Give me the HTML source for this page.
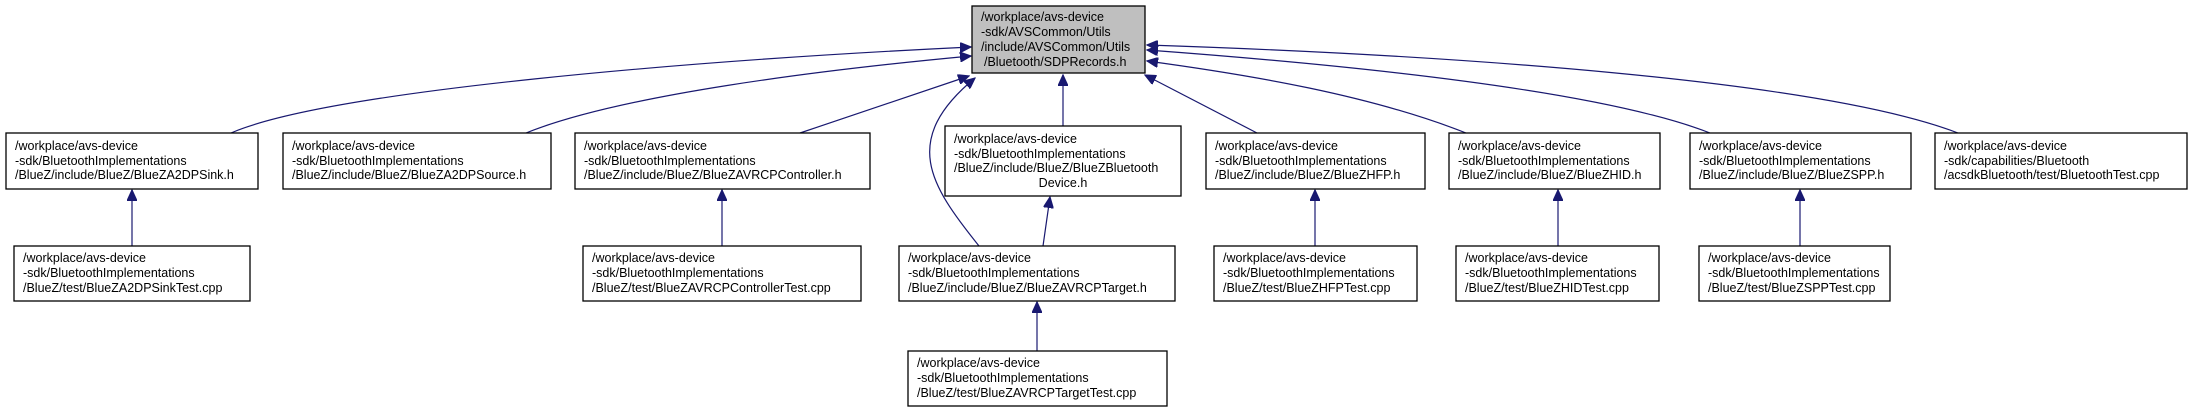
<!DOCTYPE html>
<html><head><meta charset="utf-8"><style>
html,body{margin:0;padding:0;background:#fff}
svg{display:block}
text{font-family:"Liberation Sans",sans-serif;font-size:12.5px;fill:#000}
rect{stroke:#000;stroke-width:1.3}
path{stroke:#191970;stroke-width:1.2;fill:none}
</style></head><body>
<svg width="2189" height="408" viewBox="0 0 2189 408" xmlns="http://www.w3.org/2000/svg">
<defs>
<marker id="a" markerWidth="12" markerHeight="10" refX="11" refY="5" orient="auto" markerUnits="userSpaceOnUse">
<path d="M0,0 L11,5 L0,10 Z" style="fill:#191970;stroke:#191970"/>
</marker>
</defs>
<path d="M231,133 C330,90 700,60 971,47" marker-end="url(#a)"/>
<path d="M526,133 C620,95 820,70 971,56" marker-end="url(#a)"/>
<path d="M800,133 L969,76" marker-end="url(#a)"/>
<path d="M979,246 C930,185 900,140 975,78" marker-end="url(#a)"/>
<path d="M1063,126 L1063,75" marker-end="url(#a)"/>
<path d="M1043,246 L1050,197" marker-end="url(#a)"/>
<path d="M132,246 L132,190" marker-end="url(#a)"/>
<path d="M722,246 L722,190" marker-end="url(#a)"/>
<path d="M1037,351 L1037,302" marker-end="url(#a)"/>
<path d="M1257,133 L1145,75" marker-end="url(#a)"/>
<path d="M1466,133 C1370,95 1250,75 1147,61" marker-end="url(#a)"/>
<path d="M1710,133 C1600,90 1350,65 1147,50" marker-end="url(#a)"/>
<path d="M1958,133 C1820,80 1450,55 1147,45" marker-end="url(#a)"/>
<path d="M1315,246 L1315,190" marker-end="url(#a)"/>
<path d="M1558,246 L1558,190" marker-end="url(#a)"/>
<path d="M1800,246 L1800,190" marker-end="url(#a)"/>
<rect x="972" y="6" width="173" height="67" fill="#bfbfbf"/>
<g style="font-size:12px">
<text x="981" y="21">/workplace/avs-device</text>
<text x="981" y="36">-sdk/AVSCommon/Utils</text>
<text x="981" y="51">/include/AVSCommon/Utils</text>
<text x="984" y="66">/Bluetooth/SDPRecords.h</text>
</g>
<g fill="#fff">
<rect x="6" y="133" width="252" height="56"/>
<rect x="283" y="133" width="268" height="56"/>
<rect x="575" y="133" width="295" height="56"/>
<rect x="945" y="126" width="236" height="70"/>
<rect x="1206" y="133" width="219" height="56"/>
<rect x="1449" y="133" width="211" height="56"/>
<rect x="1690" y="133" width="221" height="56"/>
<rect x="1935" y="133" width="252" height="56"/>
<rect x="14" y="246" width="236" height="55"/>
<rect x="583" y="246" width="278" height="55"/>
<rect x="899" y="246" width="276" height="55"/>
<rect x="1214" y="246" width="203" height="55"/>
<rect x="1456" y="246" width="203" height="55"/>
<rect x="1699" y="246" width="191" height="55"/>
<rect x="908" y="351" width="259" height="55"/>
</g>
<g>
<text x="15" y="150">/workplace/avs-device</text><text x="15" y="165">-sdk/BluetoothImplementations</text><text x="15" y="179">/BlueZ/include/BlueZ/BlueZA2DPSink.h</text>
<text x="292" y="150">/workplace/avs-device</text><text x="292" y="165">-sdk/BluetoothImplementations</text><text x="292" y="179">/BlueZ/include/BlueZ/BlueZA2DPSource.h</text>
<text x="584" y="150">/workplace/avs-device</text><text x="584" y="165">-sdk/BluetoothImplementations</text><text x="584" y="179">/BlueZ/include/BlueZ/BlueZAVRCPController.h</text>
<text x="954" y="143">/workplace/avs-device</text><text x="954" y="158">-sdk/BluetoothImplementations</text><text x="954" y="172">/BlueZ/include/BlueZ/BlueZBluetooth</text><text x="1063" y="187" text-anchor="middle">Device.h</text>
<text x="1215" y="150">/workplace/avs-device</text><text x="1215" y="165">-sdk/BluetoothImplementations</text><text x="1215" y="179">/BlueZ/include/BlueZ/BlueZHFP.h</text>
<text x="1458" y="150">/workplace/avs-device</text><text x="1458" y="165">-sdk/BluetoothImplementations</text><text x="1458" y="179">/BlueZ/include/BlueZ/BlueZHID.h</text>
<text x="1699" y="150">/workplace/avs-device</text><text x="1699" y="165">-sdk/BluetoothImplementations</text><text x="1699" y="179">/BlueZ/include/BlueZ/BlueZSPP.h</text>
<text x="1944" y="150">/workplace/avs-device</text><text x="1944" y="165">-sdk/capabilities/Bluetooth</text><text x="1944" y="179">/acsdkBluetooth/test/BluetoothTest.cpp</text>
<text x="23" y="262">/workplace/avs-device</text><text x="23" y="277">-sdk/BluetoothImplementations</text><text x="23" y="292">/BlueZ/test/BlueZA2DPSinkTest.cpp</text>
<text x="592" y="262">/workplace/avs-device</text><text x="592" y="277">-sdk/BluetoothImplementations</text><text x="592" y="292">/BlueZ/test/BlueZAVRCPControllerTest.cpp</text>
<text x="908" y="262">/workplace/avs-device</text><text x="908" y="277">-sdk/BluetoothImplementations</text><text x="908" y="292">/BlueZ/include/BlueZ/BlueZAVRCPTarget.h</text>
<text x="1223" y="262">/workplace/avs-device</text><text x="1223" y="277">-sdk/BluetoothImplementations</text><text x="1223" y="292">/BlueZ/test/BlueZHFPTest.cpp</text>
<text x="1465" y="262">/workplace/avs-device</text><text x="1465" y="277">-sdk/BluetoothImplementations</text><text x="1465" y="292">/BlueZ/test/BlueZHIDTest.cpp</text>
<text x="1708" y="262">/workplace/avs-device</text><text x="1708" y="277">-sdk/BluetoothImplementations</text><text x="1708" y="292">/BlueZ/test/BlueZSPPTest.cpp</text>
<text x="917" y="367">/workplace/avs-device</text><text x="917" y="382">-sdk/BluetoothImplementations</text><text x="917" y="397">/BlueZ/test/BlueZAVRCPTargetTest.cpp</text>
</g>
</svg>
</body></html>
